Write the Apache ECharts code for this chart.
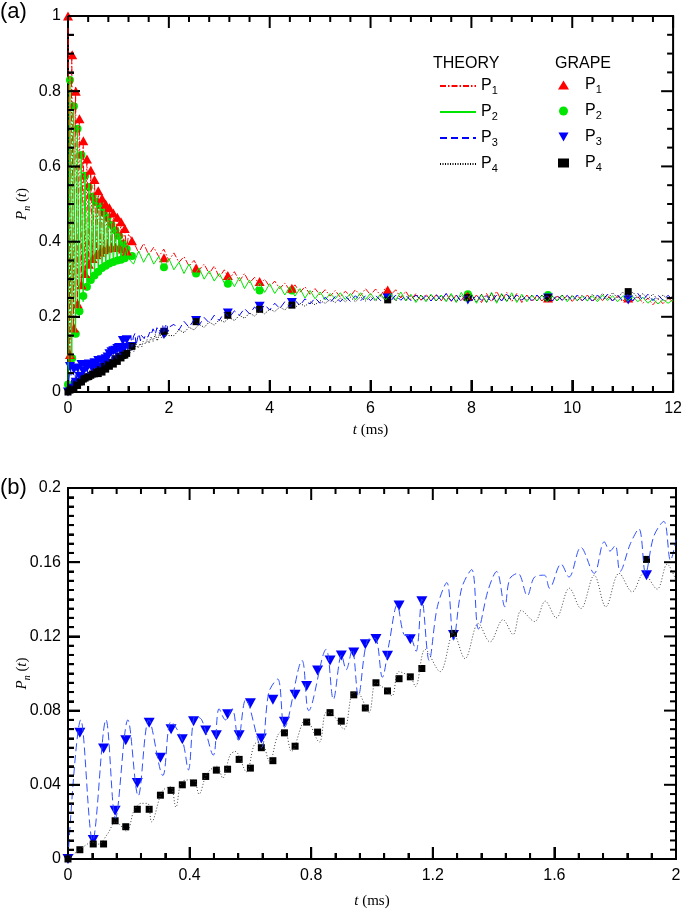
<!DOCTYPE html>
<html><head><meta charset="utf-8">
<script src="https://cdn.jsdelivr.net/npm/echarts@6/dist/echarts.min.js"></script>
<style>html,body{margin:0;padding:0;background:#fff}#c{width:685px;height:910px}</style>
</head><body><div id="c"></div>
<script>
// ---------------- DATA ----------------
// GRAPE (experiment) sample times, ms
const markerT = [0,0.039,0.083,0.117,0.155,0.19,0.228,0.267,0.304,0.339,0.376,0.413,0.453,0.488,0.525,0.563,0.600,0.636,0.674,0.712,0.747,0.785,0.821,0.862,0.899,0.940,0.978,1.013,1.051,1.089,1.126,1.164,1.268,1.903,2.54,3.17,3.80,4.44,6.34,7.93,9.52,11.11];
const grapeP1 = [1.0,0.10,0.897,0.17,0.80,0.235,0.727,0.285,0.668,0.315,0.62,0.34,0.59,0.355,0.565,0.365,0.535,0.372,0.515,0.378,0.50,0.382,0.49,0.384,0.476,0.385,0.465,0.384,0.453,0.38,0.435,0.375,0.402,0.357,0.33,0.31,0.294,0.276,0.271,0.255,0.25,0.25];
const grapeP2 = [0.02,0.83,0.09,0.76,0.155,0.70,0.215,0.63,0.255,0.575,0.28,0.545,0.298,0.52,0.31,0.505,0.32,0.497,0.33,0.48,0.336,0.465,0.342,0.445,0.346,0.43,0.35,0.415,0.352,0.395,0.356,0.38,0.362,0.332,0.315,0.288,0.27,0.27,0.261,0.26,0.258,0.25];
const grapeP3 = [0,0.068,0.0103,0.0596,0.026,0.064,0.041,0.0734,0.0546,0.070,0.0645,0.0743,0.0693,0.0667,0.078,0.0667,0.084,0.065,0.0858,0.074,0.0885,0.0933,0.1016,0.107,0.1097,0.1113,0.1158,0.1186,0.1096,0.1367,0.1184,0.139,0.1207,0.153,0.19,0.21,0.228,0.238,0.25,0.245,0.25,0.245];
const grapeP4 = [0,0.005,0.0081,0.0081,0.0206,0.0174,0.0268,0.0268,0.0344,0.037,0.040,0.041,0.0445,0.0479,0.0484,0.0537,0.049,0.060,0.053,0.068,0.0608,0.0738,0.0684,0.0789,0.0743,0.0885,0.0814,0.095,0.0906,0.0972,0.0982,0.1027,0.1216,0.1615,0.187,0.204,0.22,0.231,0.245,0.251,0.251,0.267];

// THEORY P1, P2: early part sampled every 0.0375 ms from t=0 to 1.2 ms
const EARLY_STEP = 0.0375;
const theoryP1Early = [1.0,0.08,0.90,0.16,0.81,0.23,0.735,0.28,0.675,0.31,0.625,0.335,0.59,0.35,0.565,0.36,0.54,0.368,0.52,0.374,0.505,0.378,0.49,0.38,0.475,0.382,0.465,0.38,0.45,0.378,0.435,0.375,0.42];
const theoryP2Early = [0.0,0.84,0.09,0.77,0.15,0.70,0.20,0.635,0.24,0.58,0.27,0.55,0.29,0.525,0.305,0.505,0.315,0.495,0.325,0.48,0.332,0.465,0.338,0.45,0.343,0.435,0.347,0.42,0.35,0.40,0.353,0.385,0.355];
// THEORY P1, P2: late part sampled every 0.1 ms from t=1.3 to 12 ms
const LATE12_START = 1.3, LATE_STEP = 0.1;
const theoryP1Late = [
 0.40,0.37,0.395,0.365,0.385,0.36,0.38,0.35,0.37,0.345,
 0.36,0.335,0.35,0.325,0.34,0.315,0.335,0.305,0.325,0.30,
 0.32,0.295,0.315,0.29,0.305,0.285,0.30,0.28,0.295,0.275,
 0.29,0.27,0.285,0.265,0.28,0.26,0.275,0.258,0.272,0.255,
 0.27,0.252,0.268,0.255,0.272,0.256,0.275,0.258,0.274,0.256,
 0.278,0.258,0.272,0.25,0.268,0.245,0.262,0.244,0.26,0.242,
 0.258,0.242,0.262,0.24,0.258,0.244,0.262,0.24,0.258,0.238,
 0.262,0.24,0.268,0.242,0.265,0.24,0.262,0.238,0.258,0.24,
 0.256,0.242,0.258,0.24,0.255,0.243,0.257,0.241,0.256,0.242,
 0.258,0.24,0.256,0.243,0.258,0.241,0.256,0.24,0.258,0.242,
 0.255,0.236,0.25,0.232,0.248,0.235,0.25,0.24];
const theoryP2Late = [
 0.34,0.375,0.345,0.37,0.34,0.36,0.33,0.355,0.325,0.345,
 0.315,0.34,0.31,0.33,0.30,0.322,0.295,0.315,0.29,0.305,
 0.28,0.305,0.275,0.298,0.27,0.29,0.265,0.288,0.262,0.282,
 0.258,0.28,0.255,0.275,0.25,0.27,0.248,0.266,0.245,0.262,
 0.248,0.264,0.246,0.262,0.245,0.264,0.246,0.262,0.244,0.26,
 0.245,0.262,0.244,0.266,0.242,0.26,0.238,0.258,0.24,0.26,
 0.242,0.258,0.24,0.262,0.238,0.265,0.24,0.262,0.236,0.26,
 0.238,0.265,0.236,0.262,0.24,0.264,0.238,0.26,0.24,0.258,
 0.242,0.258,0.24,0.256,0.242,0.258,0.24,0.256,0.243,0.255,
 0.242,0.256,0.24,0.258,0.243,0.256,0.24,0.255,0.242,0.254,
 0.24,0.252,0.236,0.248,0.234,0.246,0.236,0.245];

// THEORY P3, P4 for 0-2 ms
const theoryP3T = [0,0.042,0.081,0.125,0.156,0.197,0.231,0.266,0.312,0.339,0.376,0.396,0.418,0.440,0.478,0.497,0.518,0.540,0.560,0.585,0.636,0.661,0.690,0.712,0.770,0.792,0.849,0.873,0.900,0.915,0.935,0.955,0.985,1.010,1.034,1.056,1.083,1.105,1.126,1.145,1.164,1.188,1.215,1.246,1.268,1.295,1.328,1.350,1.382,1.410,1.437,1.453,1.480,1.511,1.535,1.567,1.584,1.622,1.648,1.687,1.731,1.764,1.783,1.800,1.816,1.850,1.878,1.900,1.927,1.960,1.982,2.000];
const theoryP3V = [0,0.075,0.010,0.075,0.022,0.075,0.034,0.075,0.045,0.074,0.064,0.048,0.077,0.075,0.056,0.081,0.075,0.081,0.064,0.086,0.060,0.090,0.097,0.071,0.107,0.080,0.113,0.086,0.110,0.102,0.113,0.088,0.118,0.119,0.098,0.116,0.137,0.121,0.120,0.112,0.140,0.107,0.136,0.149,0.118,0.146,0.156,0.124,0.145,0.155,0.136,0.151,0.154,0.142,0.152,0.153,0.146,0.159,0.152,0.168,0.154,0.171,0.166,0.169,0.155,0.170,0.178,0.154,0.174,0.182,0.161,0.172];
const theoryP4T = [0,0.042,0.081,0.100,0.130,0.157,0.193,0.217,0.240,0.262,0.275,0.310,0.337,0.355,0.376,0.413,0.431,0.457,0.490,0.509,0.533,0.550,0.587,0.614,0.636,0.663,0.690,0.712,0.735,0.783,0.827,0.849,0.870,0.908,0.936,0.950,0.990,1.012,1.040,1.066,1.088,1.126,1.143,1.175,1.224,1.268,1.306,1.350,1.388,1.431,1.464,1.491,1.535,1.570,1.606,1.649,1.687,1.731,1.769,1.813,1.856,1.894,1.938,1.971,2.000];
const theoryP4V = [0,0.0055,0.009,0.008,0.0135,0.020,0.015,0.026,0.030,0.030,0.020,0.0365,0.039,0.028,0.042,0.0427,0.035,0.046,0.050,0.0436,0.056,0.058,0.047,0.062,0.063,0.0525,0.0667,0.070,0.058,0.0755,0.063,0.079,0.078,0.070,0.0897,0.090,0.079,0.095,0.092,0.088,0.101,0.098,0.093,0.113,0.101,0.1216,0.108,0.127,0.117,0.129,0.121,0.134,0.128,0.139,0.130,0.146,0.135,0.153,0.136,0.154,0.144,0.154,0.1455,0.159,0.150];
// THEORY P3, P4: late part sampled every 0.1 ms from t=2.1 to 12 ms
const LATE34_START = 2.1;
const theoryP3Late = [
 0.18,0.165,0.188,0.172,0.192,0.178,0.198,0.184,0.204,0.19,
 0.212,0.198,0.216,0.204,0.222,0.208,0.226,0.213,0.232,0.218,
 0.236,0.222,0.24,0.226,0.244,0.23,0.248,0.234,0.25,0.236,
 0.252,0.238,0.254,0.24,0.255,0.241,0.256,0.242,0.256,0.243,
 0.257,0.243,0.256,0.242,0.258,0.244,0.257,0.243,0.258,0.244,
 0.256,0.242,0.26,0.244,0.262,0.242,0.258,0.24,0.256,0.242,
 0.258,0.244,0.256,0.24,0.258,0.242,0.26,0.243,0.258,0.244,
 0.257,0.243,0.258,0.244,0.256,0.242,0.258,0.244,0.257,0.243,
 0.258,0.243,0.256,0.242,0.258,0.244,0.26,0.242,0.258,0.243,
 0.26,0.242,0.262,0.244,0.26,0.243,0.258,0.244,0.257,0.245];
const theoryP4Late = [
 0.15,0.165,0.158,0.172,0.165,0.18,0.172,0.186,0.178,0.192,
 0.186,0.198,0.19,0.204,0.196,0.21,0.202,0.215,0.208,0.22,
 0.214,0.226,0.218,0.232,0.224,0.236,0.228,0.24,0.232,0.243,
 0.236,0.246,0.238,0.25,0.24,0.252,0.24,0.253,0.242,0.254,
 0.242,0.255,0.243,0.256,0.242,0.257,0.244,0.256,0.242,0.258,
 0.243,0.258,0.242,0.256,0.244,0.258,0.24,0.257,0.242,0.258,
 0.24,0.26,0.238,0.262,0.24,0.26,0.242,0.258,0.243,0.256,
 0.244,0.257,0.243,0.258,0.244,0.256,0.243,0.258,0.244,0.257,
 0.243,0.258,0.244,0.26,0.246,0.262,0.248,0.264,0.25,0.266,
 0.252,0.266,0.25,0.262,0.248,0.26,0.246,0.258,0.246,0.256];

// axis ticks
const xTicksA = {min:0, max:12, interval:2, minor:5};
const yTicksA = {min:0, max:1, interval:0.2, minor:4};
const xTicksB = {min:0, max:2, interval:0.4, minor:5};
const yTicksB = {min:0, max:0.2, interval:0.04, minor:8};

// ---------------- BUILD ----------------
const FONT = '"Liberation Sans", Arial, Helvetica, sans-serif';
const SERIF = '"Liberation Serif", "DejaVu Serif", serif';
const C1 = '#ff0000', C2 = '#00e600', C3 = '#0000ff', C4 = '#000000';
const DOWN_TRI = 'path://M0,0L10,0L5,9Z';
const MAJOR_LEN = 12, MINOR_LEN = 6;

function pairs(ts, vs) { return ts.map((t, i) => [t, vs[i]]); }
function sampled(vs, t0, step) { return vs.map((v, i) => [+(t0 + i * step).toFixed(4), v]); }

const th1 = sampled(theoryP1Early, 0, EARLY_STEP).concat(sampled(theoryP1Late, LATE12_START, LATE_STEP));
const th2 = sampled(theoryP2Early, 0, EARLY_STEP).concat(sampled(theoryP2Late, LATE12_START, LATE_STEP));
const th3b = pairs(theoryP3T, theoryP3V);
const th4b = pairs(theoryP4T, theoryP4V);
const th3 = th3b.concat(sampled(theoryP3Late, LATE34_START, LATE_STEP));
const th4 = th4b.concat(sampled(theoryP4Late, LATE34_START, LATE_STEP));
const g1 = pairs(markerT, grapeP1), g2 = pairs(markerT, grapeP2), g3 = pairs(markerT, grapeP3), g4 = pairs(markerT, grapeP4);
const g3b = g3.filter(d => d[0] <= 2), g4b = g4.filter(d => d[0] <= 2);

function axis(kind, gridIndex, tk, name, nameGap) {
  return {type: 'value', gridIndex, min: tk.min, max: tk.max, interval: tk.interval,
    position: kind === 'x' ? 'bottom' : 'left',
    axisLine: {show: true, onZero: false, lineStyle: {color: '#000', width: 2}},
    axisTick: {show: true, inside: true, length: MAJOR_LEN, lineStyle: {color: '#000', width: 2}},
    minorTick: {show: true, splitNumber: tk.minor, length: MINOR_LEN, lineStyle: {color: '#000', width: 2}},
    splitLine: {show: false}, minorSplitLine: {show: false},
    axisLabel: {show: true, color: '#000', fontSize: 16, fontFamily: FONT, margin: kind === 'x' ? 9 : 7,
      showMinLabel: true, showMaxLabel: true},
    name, nameLocation: 'middle', nameGap, nameMoveOverlap: false, nameRotate: kind === 'y' ? 90 : 0,
    nameTextStyle: {color: '#000', rich: {
      i: {fontFamily: SERIF, fontStyle: 'italic', fontSize: 15, color: '#000'},
      r: {fontFamily: SERIF, fontSize: 15, color: '#000'},
      s: {fontFamily: SERIF, fontStyle: 'italic', fontSize: 10, color: '#000', padding: [9, 0, 0, 0]}
    }}
  };
}
// tick values (major + minor) for each axis
function tickValues(tk) {
  const out = [], n = Math.round((tk.max - tk.min) / tk.interval * tk.minor);
  for (let k = 0; k <= n; k++) out.push({v: +(tk.min + k * tk.interval / tk.minor).toFixed(6), major: k % tk.minor === 0});
  return out;
}
// inward tick marks on all four frame sides, placed through the axes' scales
function tickItems(xt, yt) {
  const items = [];
  tickValues(xt).forEach(({v, major}) => {
    const L = major ? MAJOR_LEN : MINOR_LEN;
    items.push({value: [v, yt.min], symbolSize: [2, L], symbolOffset: [0, -L / 2]});
    items.push({value: [v, yt.max], symbolSize: [2, L], symbolOffset: [0, L / 2]});
  });
  tickValues(yt).forEach(({v, major}) => {
    const L = major ? MAJOR_LEN : MINOR_LEN;
    items.push({value: [xt.min, v], symbolSize: [L, 2], symbolOffset: [L / 2, 0]});
    items.push({value: [xt.max, v], symbolSize: [L, 2], symbolOffset: [-L / 2, 0]});
  });
  return items;
}
function tickSeries(idx, xt, yt) {
  return {type: 'scatter', xAxisIndex: idx, yAxisIndex: idx, data: tickItems(xt, yt), symbol: 'rect',
    clip: false, silent: true, z: 5, animation: false, emphasis: {disabled: true},
    itemStyle: {color: '#000', opacity: 1, borderWidth: 0}};
}
const xName = '{i|t}{r| (ms)}';
const yName = '{i|P}{s|n}{r| (}{i|t}{r|)}';

const GA = {left: 68, right: 10, top: 16, height: 376, show: true, borderColor: '#000', borderWidth: 2, backgroundColor: 'transparent'};
const GB = {left: 68, right: 9, top: 488, height: 375, show: true, borderColor: '#000', borderWidth: 2, backgroundColor: 'transparent'};

const lineBase = {type: 'line', symbol: 'none', showSymbol: false, clip: true, animation: false};
const scatBase = {type: 'scatter', animation: false};
const option = {
  animation: false,
  backgroundColor: '#fff',
  title: [
    {text: '(a)', left: 0, top: 1, padding: 0, textStyle: {fontSize: 22, fontWeight: 'normal', fontFamily: FONT, color: '#000'}},
    {text: '(b)', left: 0, top: 477, padding: 0, textStyle: {fontSize: 22, fontWeight: 'normal', fontFamily: FONT, color: '#000'}},
    {text: 'THEORY', left: 433, top: 56, padding: 0, textStyle: {fontSize: 16, fontWeight: 'normal', fontFamily: FONT, color: '#000'}},
    {text: 'GRAPE', left: 555, top: 56, padding: 0, textStyle: {fontSize: 16, fontWeight: 'normal', fontFamily: FONT, color: '#000'}}
  ],
  legend: [
    {data: ['T1', 'T2', 'T3', 'T4'], orient: 'vertical', left: 434, top: 73, itemWidth: 36, itemHeight: 14, itemGap: 8,
     selectedMode: false, itemStyle: {opacity: 0}, formatter: n => '{p|P}{s|' + n[1] + '}',
     textStyle: {rich: {p: {fontSize: 16, fontFamily: FONT, color: '#000'}, s: {fontSize: 11, fontFamily: FONT, color: '#000', padding: [9, 0, 0, 0]}}}},
    {data: ['G1', 'G2', 'G3', 'G4'], orient: 'vertical', left: 553, top: 72, itemWidth: 11, itemHeight: 9, itemGap: 8,
     selectedMode: false, formatter: n => '{p|P}{s|' + n[1] + '}',
     textStyle: {rich: {p: {fontSize: 16, fontFamily: FONT, color: '#000', padding: [0, 0, 0, 11]}, s: {fontSize: 11, fontFamily: FONT, color: '#000', padding: [9, 0, 0, 0]}}}}
  ],
  grid: [GA, GB],
  xAxis: [axis('x', 0, xTicksA, xName, 31), axis('x', 1, xTicksB, xName, 35)],
  yAxis: [axis('y', 0, yTicksA, yName, 36), axis('y', 1, yTicksB, yName, 36)],
  series: [
    Object.assign({}, lineBase, {name: 'T1', xAxisIndex: 0, yAxisIndex: 0, data: th1, color: C1, lineStyle: {color: C1, width: 1, type: [6, 2, 1.5, 2]}}),
    Object.assign({}, lineBase, {name: 'T2', xAxisIndex: 0, yAxisIndex: 0, data: th2, color: C2, lineStyle: {color: C2, width: 1, type: 'solid'}}),
    Object.assign({}, lineBase, {name: 'T3', xAxisIndex: 0, yAxisIndex: 0, data: th3, color: C3, lineStyle: {color: C3, width: 1, type: [7, 4]}}),
    Object.assign({}, lineBase, {name: 'T4', xAxisIndex: 0, yAxisIndex: 0, data: th4, color: C4, lineStyle: {color: C4, width: 1, type: [1, 1.5]}}),
    Object.assign({}, scatBase, {name: 'G2', xAxisIndex: 0, yAxisIndex: 0, data: g2, symbol: 'circle', symbolSize: 8, itemStyle: {color: C2, opacity: 1}}),
    Object.assign({}, scatBase, {name: 'G1', xAxisIndex: 0, yAxisIndex: 0, data: g1, symbol: 'triangle', symbolSize: [10, 9], itemStyle: {color: C1, opacity: 1}}),
    Object.assign({}, scatBase, {name: 'G3', xAxisIndex: 0, yAxisIndex: 0, data: g3, symbol: DOWN_TRI, symbolSize: [10, 9], itemStyle: {color: C3, opacity: 1}}),
    Object.assign({}, scatBase, {name: 'G4', xAxisIndex: 0, yAxisIndex: 0, data: g4, symbol: 'rect', symbolSize: 7, itemStyle: {color: C4, opacity: 1}}),
    Object.assign({}, lineBase, {name: 'T3', xAxisIndex: 1, yAxisIndex: 1, data: th3b, smooth: 0.35, color: C3, lineStyle: {color: '#3050ff', width: 1, type: [8, 4]}}),
    Object.assign({}, lineBase, {name: 'T4', xAxisIndex: 1, yAxisIndex: 1, data: th4b, smooth: 0.35, color: C4, lineStyle: {color: '#444', width: 1, type: [1, 2]}}),
    Object.assign({}, scatBase, {name: 'G3', xAxisIndex: 1, yAxisIndex: 1, data: g3b, symbol: DOWN_TRI, symbolSize: [11, 10], itemStyle: {color: C3, opacity: 1}}),
    Object.assign({}, scatBase, {name: 'G4', xAxisIndex: 1, yAxisIndex: 1, data: g4b, symbol: 'rect', symbolSize: 7, itemStyle: {color: C4, opacity: 1}}),
    tickSeries(0, xTicksA, yTicksA),
    tickSeries(1, xTicksB, yTicksB)
  ]
};
const chart = echarts.init(document.getElementById('c'), null, {renderer: 'canvas'});
chart.setOption(option);
</script></body></html>
